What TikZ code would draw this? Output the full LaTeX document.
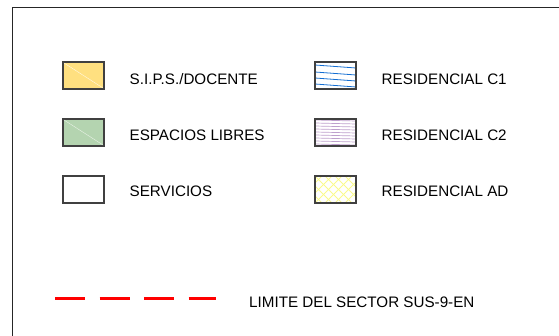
\documentclass[tikz,border=0pt]{standalone}
\usepackage{fontspec}
\setmainfont{Liberation Sans}
\usetikzlibrary{calc}
\definecolor{sipsyellow}{RGB}{255,224,128}
\definecolor{librgreen}{RGB}{180,212,176}
\definecolor{cblue}{RGB}{20,110,210}
\definecolor{cpurple}{RGB}{190,160,205}
\definecolor{adyellow}{RGB}{250,250,140}
\definecolor{limred}{RGB}{255,0,0}

\begin{document}
\begin{tikzpicture}[x=1pt,y=-1pt,
    every node/.style={black,anchor=base west,inner sep=0pt,font=\fontsize{15.2}{18}\selectfont},
    swatch/.style={draw=black!75,line width=1.2pt}]
    \useasboundingbox (0,0) rectangle (559,336);

    % frame
    \draw[black!85,line width=1pt] (12.5,336) -- (12.5,8) -- (559,8);

    % left column
    \filldraw[swatch,fill=sipsyellow] (63,62) rectangle (104,89);
    \draw[white!80!sipsyellow,line width=0.4pt] (64,63) -- (103,88);
    \node (sips) at (129.5,84.5) {S.I.P.S./DOCENTE};

    \filldraw[swatch,fill=librgreen] (63,119) rectangle (104,146);
    \draw[white!70!librgreen,line width=0.4pt] (64,120) -- (103,145);
    \node (libres) at (129.5,140.5) {ESPACIOS LIBRES};

    \draw[swatch] (63,176) rectangle (104,203);
    \node (serv) at (129.5,197) {SERVICIOS};

    % right column
    \begin{scope}
        \clip (315,62) rectangle (356,89);
        \foreach \y in {65,72,78,84}
            \draw[cblue,line width=0.8pt] (315,\y) -- (356,\y+3);
    \end{scope}
    \draw[swatch] (315,62) rectangle (356,89);
    \node (c1) at (381.5,84.5) {RESIDENCIAL C1};

    \begin{scope}
        \clip (315,119) rectangle (356,146);
        \foreach \y in {120,123,...,147}
            \draw[cpurple,line width=0.7pt] (315,\y) -- (356,\y+1);
    \end{scope}
    \draw[swatch] (315,119) rectangle (356,146);
    \node (c2) at (381.5,140.5) {RESIDENCIAL C2};

    \begin{scope}
        \clip (315,176) rectangle (356,203);
        \foreach \x in {285,295,...,365} {
            \draw[adyellow,line width=0.8pt] (\x,176) -- (\x+27,203);
            \draw[adyellow,line width=0.8pt] (\x+27,176) -- (\x,203);
        }
    \end{scope}
    \draw[swatch] (315,176) rectangle (356,203);
    \node (ad) at (381.5,197) {RESIDENCIAL AD};

    % limite
    \coordinate (lima) at (55,299);
    \coordinate (limb) at (216,299);
    \draw[limred,line width=3pt,dash pattern=on 30pt off 14.5pt] (lima) -- (limb);
    \node (limite) at (249,307.5) {LIMITE DEL SECTOR SUS-9-EN};
\end{tikzpicture}
\end{document}
